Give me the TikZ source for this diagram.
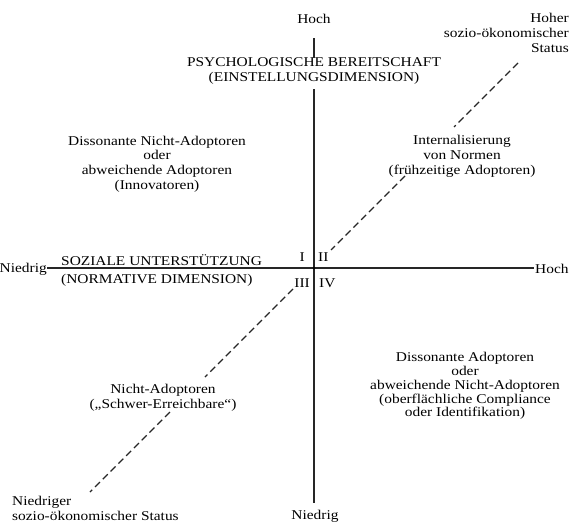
\documentclass[tikz,border=0pt]{standalone}
\usepackage{fontspec}
\setmainfont{Liberation Serif}[FakeStretch=1.15]
\begin{document}
\begin{tikzpicture}[x=1pt,y=-1pt,
  lbl/.style={inner sep=0pt,align=center,font=\fontsize{13.4}{14.8}\selectfont},
  axis/.style={line width=1.2pt,draw=black!85},
  dline/.style={line width=1.2pt,draw=black!85,dash pattern=on 7pt off 4pt}]
\useasboundingbox (0,0) rectangle (572,522);
% axis labels
\node[lbl] (hochT) at (314,19) {Hoch};
\node[lbl] (niedB) at (315,516) {Niedrig};
\node[lbl,anchor=east] (niedL) at (47,269) {Niedrig};
\node[lbl,anchor=west] (hochR) at (535,269) {Hoch};
\node[lbl] (psych) at (314,71) {PSYCHOLOGISCHE BEREITSCHAFT\\(EINSTELLUNGSDIMENSION)};
\node[lbl,anchor=west] (soz1) at (61,260) {SOZIALE UNTERSTÜTZUNG};
\node[lbl,anchor=west] (soz2) at (61,280) {(NORMATIVE DIMENSION)};
% quadrant numerals
\node[lbl,anchor=east] (q1) at (305,257) {I};
\node[lbl,anchor=west] (q2) at (318,257) {II};
\node[lbl,anchor=east] (q3) at (310,283) {III};
\node[lbl,anchor=west] (q4) at (319,283) {IV};
% status labels
\node[lbl,align=right,anchor=north east] (hoher) at (569,13) {Hoher\\sozio-ökonomischer\\Status};
\node[lbl,align=left,anchor=north west] (niedriger) at (12,496) {Niedriger\\sozio-ökonomischer Status};
% quadrant texts
\node[lbl] (dna) at (157,164) {Dissonante Nicht-Adoptoren\\oder\\abweichende Adoptoren\\(Innovatoren)};
\node[lbl] (intern) at (462,156) {Internalisierung\\von Normen\\(frühzeitige Adoptoren)};
\node[lbl] (nicht) at (163,398) {Nicht-Adoptoren\\(„Schwer-Erreichbare“)};
\node[lbl,font=\fontsize{13.4}{13.8}\selectfont] (dad) at (465,386) {Dissonante Adoptoren\\oder\\abweichende Nicht-Adoptoren\\(oberflächliche Compliance\\oder Identifikation)};
% axes
\coordinate (O) at (314,268);
\coordinate (hL) at (47,268);
\coordinate (hR) at (534,268);
\coordinate (vT1) at (314,38);
\coordinate (vT2) at (314,58);
\coordinate (vM) at (314,89);
\coordinate (vB) at (314,503);
\draw[axis] (hL) -- (hR);
\draw[axis] (vT1) -- (vT2);
\draw[axis] (vM) -- (vB);
\fill (O) circle (1.3pt);
% dashed status diagonal
\coordinate (d1) at (518,63);
\coordinate (d2) at (454,127);
\coordinate (d3) at (405,176);
\coordinate (d4) at (331,250);
\coordinate (d5) at (293,289);
\coordinate (d6) at (205,377);
\coordinate (d7) at (170,412);
\coordinate (d8) at (90,492);
\draw[dline] (d1) -- (d2);
\draw[dline] (d3) -- (d4);
\draw[dline] (d5) -- (d6);
\draw[dline] (d7) -- (d8);
\end{tikzpicture}
\end{document}
